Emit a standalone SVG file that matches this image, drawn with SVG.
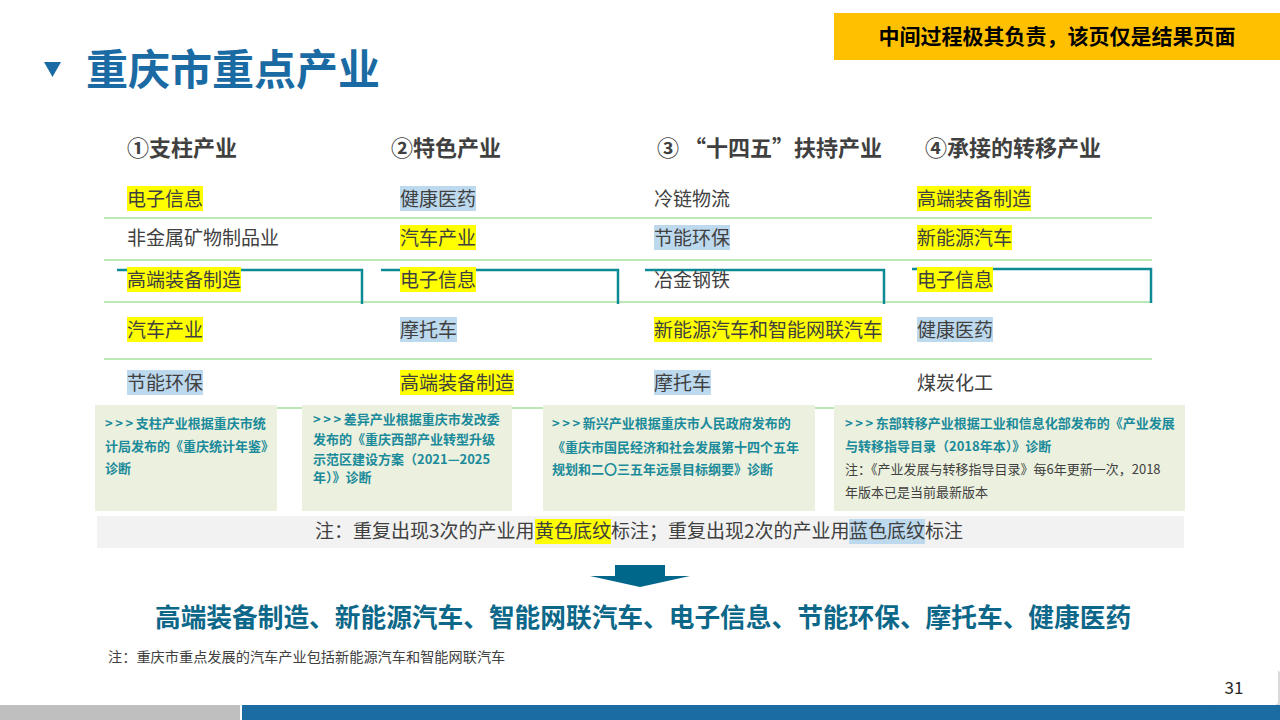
<svg xmlns="http://www.w3.org/2000/svg" width="1280" height="720" viewBox="0 0 1280 720">
<style>
text{font-family:"Noto Sans CJK SC","Noto Sans",sans-serif;}
.cell{font-size:19px;fill:#404040;}
.hdr{font-size:22px;font-weight:bold;fill:#404040;}
.note{font-size:13px;font-weight:bold;fill:#1b8a9b;}
.noteg{font-size:13px;fill:#404040;}
.hy{fill:#FFFF00;}
.hb{fill:#BDD9EE;}
.row{stroke:#A9DFA0;stroke-width:1.5;fill:none;}
.br{stroke:#0E8A94;stroke-width:2.5;fill:none;}
.box{fill:#EBF1DE;}
</style>
<rect width="1280" height="720" fill="#FFFFFF"/>

<g id="title">
  <polygon points="44,62 61,62 52.5,77" fill="#1A6AA3"/>
  <text x="86" y="85" font-size="42" font-weight="bold" fill="#1A6AA3">重庆市重点产业</text>
</g>

<g id="banner">
  <rect x="834" y="13" width="446" height="47" fill="#FFC000"/>
  <text x="1057" y="44" font-size="21" font-weight="bold" fill="#000000" text-anchor="middle">中间过程极其负责，该页仅是结果页面</text>
</g>

<g id="headers">
  <text class="hdr" x="127" y="156">①支柱产业</text>
  <text class="hdr" x="391" y="156">②特色产业</text>
  <text class="hdr" x="657" y="156">③ “十四五”扶持产业</text>
  <text class="hdr" x="925" y="156">④承接的转移产业</text>
</g>

<g id="connectors">
  <line class="row" x1="104" y1="218" x2="1152" y2="218"/>
  <line class="row" x1="104" y1="260" x2="1152" y2="260"/>
  <line class="row" x1="104" y1="302" x2="1152" y2="302"/>
  <line class="row" x1="104" y1="359" x2="1152" y2="359"/>
  <line class="row" x1="104" y1="408" x2="1152" y2="408"/>
  <polyline class="br" points="117,270 362,270 362,304"/>
  <polyline class="br" points="381,270 618,270 618,304"/>
  <polyline class="br" points="645,270 884,270 884,304"/>
  <polyline class="br" points="912,269 1151,269 1151,303"/>
</g>

<g id="col1">
  <rect class="hy" x="127" y="186" width="76" height="25"/>
  <text class="cell" x="127" y="206">电子信息</text>
  <text class="cell" x="127" y="245">非金属矿物制品业</text>
  <rect class="hy" x="127" y="267" width="114" height="25"/>
  <text class="cell" x="127" y="287">高端装备制造</text>
  <rect class="hy" x="127" y="317" width="76" height="25"/>
  <text class="cell" x="127" y="337">汽车产业</text>
  <rect class="hb" x="127" y="370" width="76" height="25"/>
  <text class="cell" x="127" y="390">节能环保</text>
</g>

<g id="col2">
  <rect class="hb" x="400" y="186" width="76" height="25"/>
  <text class="cell" x="400" y="206">健康医药</text>
  <rect class="hy" x="400" y="225" width="76" height="25"/>
  <text class="cell" x="400" y="245">汽车产业</text>
  <rect class="hy" x="400" y="267" width="76" height="25"/>
  <text class="cell" x="400" y="287">电子信息</text>
  <rect class="hb" x="400" y="317" width="57" height="25"/>
  <text class="cell" x="400" y="337">摩托车</text>
  <rect class="hy" x="400" y="370" width="114" height="25"/>
  <text class="cell" x="400" y="390">高端装备制造</text>
</g>

<g id="col3">
  <text class="cell" x="654" y="206">冷链物流</text>
  <rect class="hb" x="654" y="225" width="76" height="25"/>
  <text class="cell" x="654" y="245">节能环保</text>
  <text class="cell" x="654" y="287">冶金钢铁</text>
  <rect class="hy" x="654" y="317" width="228" height="25"/>
  <text class="cell" x="654" y="337">新能源汽车和智能网联汽车</text>
  <rect class="hb" x="654" y="370" width="57" height="25"/>
  <text class="cell" x="654" y="390">摩托车</text>
</g>

<g id="col4">
  <rect class="hy" x="917" y="186" width="114" height="25"/>
  <text class="cell" x="917" y="206">高端装备制造</text>
  <rect class="hy" x="917" y="225" width="95" height="25"/>
  <text class="cell" x="917" y="245">新能源汽车</text>
  <rect class="hy" x="917" y="267" width="76" height="25"/>
  <text class="cell" x="917" y="287">电子信息</text>
  <rect class="hb" x="917" y="317" width="76" height="25"/>
  <text class="cell" x="917" y="337">健康医药</text>
  <text class="cell" x="917" y="390">煤炭化工</text>
</g>

<g id="note1">
  <rect class="box" x="95" y="405" width="182" height="106"/>
  <text class="note" x="105" y="427.5"><tspan letter-spacing="2.6">&gt;&gt;&gt;</tspan>支柱产业根据重庆市统</text>
  <text class="note" x="105" y="450.5">计局发布的《重庆统计年鉴》</text>
  <text class="note" x="105" y="472.5">诊断</text>
</g>

<g id="note2">
  <rect class="box" x="302" y="405" width="210" height="106"/>
  <text class="note" x="313" y="423.5"><tspan letter-spacing="2.6">&gt;&gt;&gt;</tspan>差异产业根据重庆市发改委</text>
  <text class="note" x="313" y="443.5">发布的《重庆西部产业转型升级</text>
  <text class="note" x="313" y="463.5">示范区建设方案（2021—2025</text>
  <text class="note" x="313" y="481.5">年）》诊断</text>
</g>

<g id="note3">
  <rect class="box" x="543" y="405" width="272" height="106"/>
  <text class="note" x="552" y="427.5"><tspan letter-spacing="2.6">&gt;&gt;&gt;</tspan>新兴产业根据重庆市人民政府发布的</text>
  <text class="note" x="552" y="451.5">《重庆市国民经济和社会发展第十四个五年</text>
  <text class="note" x="552" y="473.5">规划和二〇三五年远景目标纲要》诊断</text>
</g>

<g id="note4">
  <rect class="box" x="834" y="405" width="351" height="106"/>
  <text class="note" x="845" y="427.5"><tspan letter-spacing="2.6">&gt;&gt;&gt;</tspan>东部转移产业根据工业和信息化部发布的《产业发展</text>
  <text class="note" x="845" y="450.5">与转移指导目录（2018年本）》诊断</text>
  <text class="noteg" x="845" y="473.5">注：《产业发展与转移指导目录》每6年更新一次，2018</text>
  <text class="noteg" x="845" y="496.5">年版本已是当前最新版本</text>
</g>

<g id="legend">
  <rect x="97" y="516" width="1087" height="32" fill="#F2F2F2"/>
  <rect class="hy" x="535" y="519" width="76" height="25"/>
  <rect class="hb" x="849" y="519" width="76" height="25"/>
  <text class="cell" y="538"><tspan x="315">注：重复出现3次的产业用</tspan><tspan x="535">黄色底纹</tspan><tspan x="611">标注；重复出现2次的产业用</tspan><tspan x="849">蓝色底纹</tspan><tspan x="925">标注</tspan></text>
</g>

<g id="arrow">
  <polygon points="615,565 665,565 665,576 690,576 640,587 590,576 615,576" fill="#00668A"/>
</g>

<g id="result">
  <text x="155" y="627" font-size="25.7" font-weight="bold" fill="#0C6788">高端装备制造、新能源汽车、智能网联汽车、电子信息、节能环保、摩托车、健康医药</text>
  <text x="108" y="662" font-size="14.2" fill="#404040">注：重庆市重点发展的汽车产业包括新能源汽车和智能网联汽车</text>
</g>

<g id="footer">
  <rect x="1209" y="670" width="71" height="37" rx="4" fill="#BFBFBF" opacity="0.6"/>
  <rect x="1207" y="668" width="71" height="37" rx="4" fill="#FFFFFF"/>
  <text x="1234" y="694" font-size="17" fill="#262626" font-family="Liberation Sans, sans-serif" text-anchor="middle">31</text>
  <rect x="0" y="705" width="240" height="15" fill="#BFBFBF"/>
  <rect x="242" y="705" width="1038" height="15" fill="#1B6CA2"/>
</g>
</svg>
